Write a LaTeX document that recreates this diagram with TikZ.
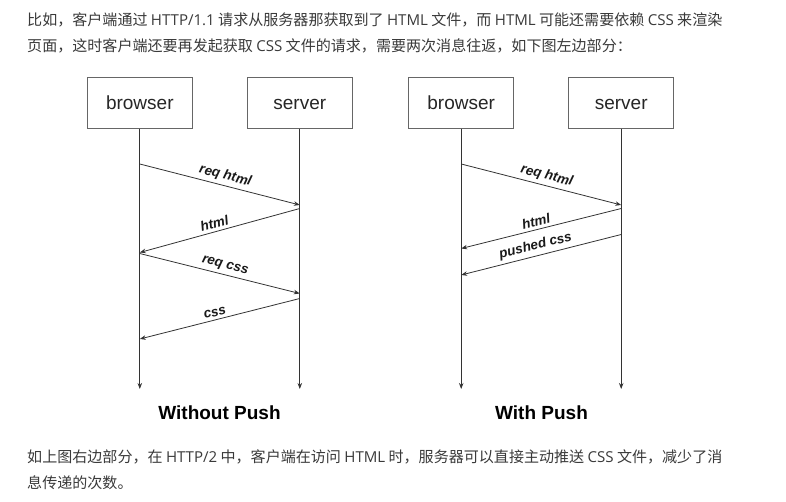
\documentclass[tikz,border=0pt]{standalone}
\usepackage{fontspec}
\setmainfont{Liberation Sans}
\newfontfamily\cjkfont{Noto Sans CJK SC}
\newfontfamily\latfont{Open Sans}
\newcommand{\lt}[1]{{\latfont #1}}
\usetikzlibrary{arrows.meta}
\definecolor{bodytext}{HTML}{3A3A3A}
\definecolor{boxline}{HTML}{666666}
\definecolor{lineclr}{HTML}{333333}
\tikzset{
  actor/.style={draw=boxline, line width=0.9pt, minimum width=105pt, minimum height=51pt, inner sep=0pt, text height=14pt, text depth=1pt, font=\fontsize{19}{22}\selectfont, text=black!85},
  lifeline/.style={draw=lineclr, line width=0.8pt, -{Stealth[length=6pt,width=4.5pt]}},
  msg/.style={draw=lineclr, line width=0.8pt, -{Stealth[length=6pt,width=4.5pt]}},
  msglabel/.style={sloped, above, inner sep=3pt, font=\fontsize{13.5}{15}\selectfont\bfseries\itshape, text=black!90},
  caption/.style={font=\fontsize{19}{22}\selectfont\bfseries, text=black},
  para/.style={anchor=west, inner sep=0pt, font=\cjkfont\fontsize{15.05}{18}\selectfont, text=bodytext}
}
\begin{document}
\begin{tikzpicture}[x=1pt,y=-1pt]
\useasboundingbox[fill=white] (0,0) rectangle (786,502);

\node[para] (t1) at (27,20) {比如，客户端通过 \lt{HTTP/1.1} 请求从服务器那获取到了 \lt{HTML} 文件，而 \lt{HTML} 可能还需要依赖 \lt{CSS} 来渲染};
\node[para] (t2) at (27,45.5) {页面，这时客户端还要再发起获取 \lt{CSS} 文件的请求，需要两次消息往返，如下图左边部分：};
\node[para] (t3) at (27,457) {如上图右边部分，在 \lt{HTTP/2} 中，客户端在访问 \lt{HTML} 时，服务器可以直接主动推送 \lt{CSS} 文件，减少了消};
\node[para] (t4) at (27,482.5) {息传递的次数。};

% Left diagram
\node[actor] (lb) at (139.8,102.8) {browser};
\node[actor] (ls) at (299.8,102.8) {server};
\coordinate (lbend) at (139.8,389);
\coordinate (lsend) at (299.8,389);
\draw[lifeline] (lb.south) -- (lbend);
\draw[lifeline] (ls.south) -- (lsend);
\coordinate (la1) at (139.8,164);
\coordinate (la2) at (299.8,205);
\coordinate (la3) at (299.8,208.5);
\coordinate (la4) at (139.8,252.5);
\coordinate (la5) at (139.8,253.5);
\coordinate (la6) at (299.8,293.5);
\coordinate (la7) at (299.8,298.5);
\coordinate (la8) at (139.8,339);
\draw[msg] (la1) -- node[msglabel, pos=0.52] {req html} (la2);
\draw[msg] (la3) -- node[msglabel, pos=0.52] {html} (la4);
\draw[msg] (la5) -- node[msglabel, pos=0.52] {req css} (la6);
\draw[msg] (la7) -- node[msglabel, pos=0.52] {css} (la8);
\node[caption] (lcap) at (219.5,412.5) {Without Push};

% Right diagram
\node[actor] (rb) at (461.2,102.8) {browser};
\node[actor] (rs) at (621.2,102.8) {server};
\coordinate (rbend) at (461.2,389);
\coordinate (rsend) at (621.2,389);
\draw[lifeline] (rb.south) -- (rbend);
\draw[lifeline] (rs.south) -- (rsend);
\coordinate (ra1) at (461.2,164);
\coordinate (ra2) at (621.2,205);
\coordinate (ra3) at (621.2,208.5);
\coordinate (ra4) at (461.2,248.5);
\coordinate (ra5) at (621.2,234.5);
\coordinate (ra6) at (461.2,275);
\draw[msg] (ra1) -- node[msglabel, pos=0.52] {req html} (ra2);
\draw[msg] (ra3) -- node[msglabel, pos=0.52] {html} (ra4);
\draw[msg] (ra5) -- node[msglabel, pos=0.52] {pushed css} (ra6);
\node[caption] (rcap) at (541.5,412.5) {With Push};
\end{tikzpicture}
\end{document}
